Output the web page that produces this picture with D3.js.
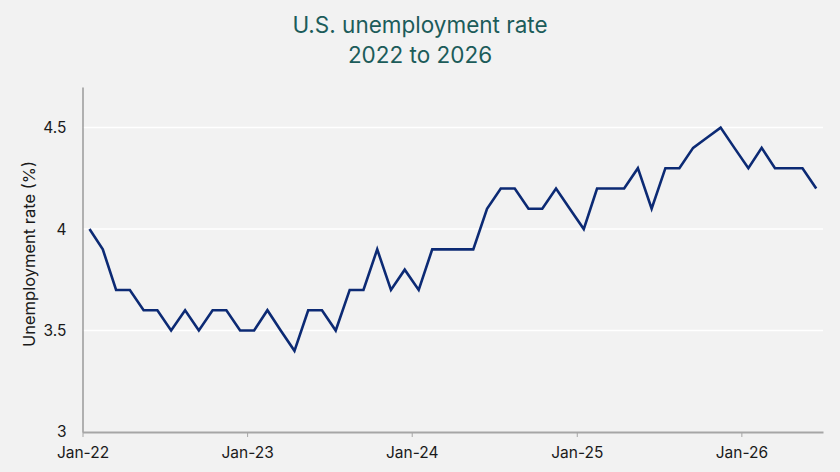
<!DOCTYPE html>
<html>
<head>
<meta charset="utf-8">
<script src="https://cdn.jsdelivr.net/npm/d3@7"></script>
<style>
  html, body { margin: 0; padding: 0; background: #f2f2f2; }
  svg { display: block; }
  text { font-family: Inter, Roboto, "Noto Sans", sans-serif; }
</style>
</head>
<body>
<svg id="chart" width="840" height="472"></svg>
<script>
const titleLines = ["U.S. unemployment rate", "2022 to 2026"];
const yAxisTitle = "Unemployment rate (%)";
const startMonth = "2022-01";
const rates = [
  4.0, 3.9, 3.7, 3.7, 3.6, 3.6, 3.5, 3.6, 3.5, 3.6, 3.6, 3.5,
  3.5, 3.6, 3.5, 3.4, 3.6, 3.6, 3.5, 3.7, 3.7, 3.9, 3.7, 3.8,
  3.7, 3.9, 3.9, 3.9, 3.9, 4.1, 4.2, 4.2, 4.1, 4.1, 4.2, 4.1,
  4.0, 4.2, 4.2, 4.2, 4.3, 4.1, 4.3, 4.3, 4.4, 4.45, 4.5, 4.4,
  4.3, 4.4, 4.3, 4.3, 4.3, 4.2
];
const yTicks = [3, 3.5, 4, 4.5];
const yTickLabels = ["3", "3.5", "4", "4.5"];
const xTickLabels = ["Jan-22", "Jan-23", "Jan-24", "Jan-25", "Jan-26"];

const parse = d3.timeParse("%Y-%m");
const t0 = parse(startMonth);
const months = rates.map((_, i) => d3.timeMonth.offset(t0, i));
const data = months.map((m, i) => ({ date: m, value: rates[i] }));

const svg = d3.select("#chart");
const W = 840, H = 472;
const m = { left: 82.5, right: 17, top: 87, bottom: 40 };
const plotW = W - m.left - m.right;
const plotH = H - m.top - m.bottom;

svg.append("rect").attr("width", W).attr("height", H).attr("fill", "#f2f2f2");

// band-like time scale: each month occupies a slot, points at slot centres
const x = d3.scaleTime()
  .domain([t0, d3.timeMonth.offset(t0, rates.length)])
  .range([m.left, m.left + plotW]);
const xMid = d => {
  const a = x(d), b = x(d3.timeMonth.offset(d, 1));
  return (a + b) / 2;
};
const y = d3.scaleLinear().domain([3, 4.7]).range([m.top + plotH, m.top]);

// gridlines
svg.append("g")
  .selectAll("line")
  .data(yTicks.filter(v => v > 3))
  .join("line")
  .attr("x1", m.left).attr("x2", m.left + plotW)
  .attr("y1", d => y(d)).attr("y2", d => y(d))
  .attr("stroke", "#ffffff").attr("stroke-width", 1.5);

// y axis
const yAxis = d3.axisLeft(y).tickValues(yTicks)
  .tickFormat((d, i) => yTickLabels[i]).tickSize(0).tickPadding(16);
const gy = svg.append("g").attr("transform", `translate(${m.left},0)`).call(yAxis);
gy.select(".domain").attr("stroke", "#8c8c8c").attr("stroke-width", 1.3);
gy.selectAll("text").attr("font-size", 15.5).attr("fill", "#1a1a1a");

// x axis
const yearTicks = xTickLabels.map((_, i) => d3.timeYear.offset(t0, i));
const xAxis = d3.axisBottom(x).tickValues(yearTicks)
  .tickFormat((d, i) => xTickLabels[i]).tickSize(5).tickSizeOuter(0).tickPadding(10);
const gx = svg.append("g").attr("transform", `translate(0,${m.top + plotH})`).call(xAxis);
gx.select(".domain").attr("stroke", "#a6a6a6").attr("stroke-width", 2);
gx.selectAll(".tick line").attr("stroke", "#a6a6a6").attr("stroke-width", 1);
gx.selectAll("text").attr("font-size", 15.5).attr("fill", "#1a1a1a");

// line
const line = d3.line().x(d => xMid(d.date)).y(d => y(d.value));
svg.append("path").datum(data)
  .attr("d", line)
  .attr("fill", "none")
  .attr("stroke", "#0c2a74")
  .attr("stroke-width", 2.6)
  .attr("stroke-linejoin", "miter");

// y axis title
svg.append("text")
  .attr("transform", `translate(35,254) rotate(-90)`)
  .attr("text-anchor", "middle")
  .attr("font-size", 16.5)
  .attr("fill", "#1a1a1a")
  .text(yAxisTitle);

// title
svg.append("g").selectAll("text")
  .data(titleLines).join("text")
  .attr("x", W / 2)
  .attr("y", (d, i) => 33 + i * 30)
  .attr("text-anchor", "middle")
  .attr("font-size", 22.5)
  .attr("fill", "#1c5c5a")
  .text(d => d);
</script>
</body>
</html>
